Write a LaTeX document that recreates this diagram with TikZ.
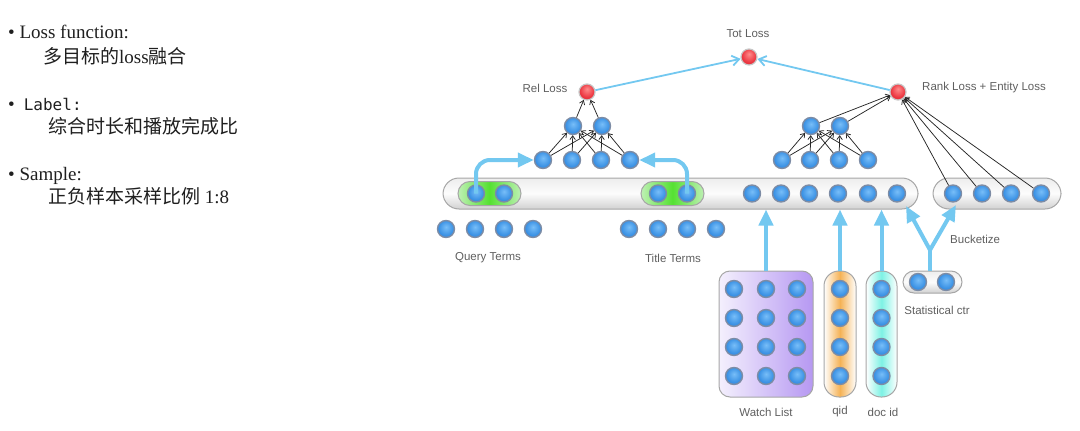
\documentclass[tikz,border=0pt]{standalone}
\usepackage{fontspec}
\setmainfont{Liberation Serif}
\setsansfont{Liberation Sans}
\newfontfamily\cjk{Noto Sans CJK SC}
\newfontfamily\monof{DejaVu Sans Mono}
\usetikzlibrary{arrows.meta}
\definecolor{bcone}{RGB}{120,190,248}
\definecolor{bctwo}{RGB}{58,145,228}
\definecolor{bcthree}{RGB}{45,118,205}
\definecolor{rcone}{RGB}{255,140,140}
\definecolor{rctwo}{RGB}{236,55,65}
\definecolor{rcthree}{RGB}{205,40,50}
\definecolor{ringc}{RGB}{125,140,165}
\definecolor{lblue}{RGB}{115,200,240}
\definecolor{lbl}{RGB}{95,95,95}
\definecolor{gedge}{RGB}{190,240,180}
\definecolor{gmid}{RGB}{85,225,50}
\definecolor{wlone}{RGB}{244,240,253}
\definecolor{wltwo}{RGB}{182,152,242}
\definecolor{qorange}{RGB}{245,178,85}
\definecolor{dcyan}{RGB}{125,242,228}
\pgfdeclareradialshading{bsh}{\pgfpoint{0bp}{6bp}}{color(0bp)=(bcone); color(22bp)=(bctwo); color(42bp)=(bcthree); color(50bp)=(bcthree)}
\pgfdeclareradialshading{rsh}{\pgfpoint{0bp}{10bp}}{color(0bp)=(rcone); color(22bp)=(rctwo); color(42bp)=(rcthree); color(50bp)=(rcthree)}
\tikzset{
  bnode/.style={circle, minimum size=17pt, inner sep=0pt, draw=ringc, line width=1.4pt, shading=bsh},
  rnode/.style={circle, minimum size=16pt, inner sep=0pt, draw=gray!45, line width=1.2pt, shading=rsh},
  holder/.style={draw=gray!70, line width=1pt, inner sep=0pt},
  grayfill/.style={top color=gray!14, bottom color=gray!36, middle color=gray!2},
  narr/.style={-{Straight Barb[length=3.8pt,width=5.5pt]}, line width=0.75pt, black!85},
  farr/.style={-{Triangle[length=16pt,width=14pt]}, line width=4pt, lblue},
  fline/.style={line width=4pt, lblue},
  larr/.style={-{Straight Barb[length=7pt,width=10pt]}, line width=1.8pt, lblue},
  lab/.style={font=\sffamily\fontsize{11.5}{13}\selectfont, text=lbl, inner sep=0pt},
  txt/.style={anchor=base west, inner sep=0pt, font=\fontsize{19}{22}\selectfont, text=black!88}
}
\begin{document}
\begin{tikzpicture}[x=1pt,y=-1pt]
\useasboundingbox (0,0) rectangle (1080,431);
% left text
\node[txt] (t1) at (8,38) {• Loss function:};
\node[txt] (t2) at (43,63) {{\cjk 多目标的}loss{\cjk 融合}};
\node[txt] (t3) at (8,110) {•\hspace{9pt}{\monof\fontsize{16}{19}\selectfont Label:}};
\node[txt] (t4) at (48,133) {\cjk 综合时长和播放完成比};
\node[txt] (t5) at (8,180) {• Sample:};
\node[txt] (t6) at (48,203) {{\cjk 正负样本采样比例} 1:8};

% containers
\node[holder, grayfill, rounded corners=16pt, minimum width=475pt, minimum height=31pt] (bar) at (680.5,193.5) {};
\node[holder, grayfill, rounded corners=16pt, minimum width=128pt, minimum height=31pt] (rbar) at (997,193.5) {};
\node[holder, left color=gedge, right color=gedge, middle color=gmid, rounded corners=12pt, minimum width=63pt, minimum height=24pt] (gq) at (489.5,193.5) {};
\node[holder, left color=gedge, right color=gedge, middle color=gmid, rounded corners=12pt, minimum width=63pt, minimum height=24pt] (gt) at (672.5,193.5) {};
\node[holder, left color=wlone, right color=wltwo, rounded corners=11pt, minimum width=94pt, minimum height=126pt] (wl) at (766,334) {};
\node[holder, left color=white, right color=white, middle color=qorange, rounded corners=15pt, minimum width=32pt, minimum height=126pt] (qid) at (840,334) {};
\node[holder, left color=white, right color=white, middle color=dcyan, rounded corners=15pt, minimum width=31pt, minimum height=126pt] (did) at (881.5,334) {};
\node[holder, grayfill, rounded corners=11pt, minimum width=59pt, minimum height=22pt] (st) at (932.5,282) {};

% loss nodes
\node[rnode] (tot) at (749,57) {};
\node[rnode] (rel) at (587,92) {};
\node[rnode] (rank) at (898,92) {};

% left tower
\node[bnode] (g1) at (573,126) {};
\node[bnode] (g2) at (602,126) {};
\foreach \i/\x in {1/543,2/572,3/601,4/630} \node[bnode] (h\i) at (\x,160) {};
% right tower
\node[bnode] (m1) at (811,126) {};
\node[bnode] (m2) at (840,126) {};
\foreach \i/\x in {1/782,2/810,3/839,4/868} \node[bnode] (k\i) at (\x,160) {};

% bar nodes
\node[bnode] (q1) at (476,193.5) {};
\node[bnode] (q2) at (504,193.5) {};
\node[bnode] (s1) at (658,193.5) {};
\node[bnode] (s2) at (687,193.5) {};
\foreach \i/\x in {1/752,2/781,3/809,4/838,5/868,6/897} \node[bnode] (b\i) at (\x,193.5) {};
\foreach \i/\x in {1/953,2/982,3/1011,4/1041} \node[bnode] (r\i) at (\x,193.5) {};

% term rows
\foreach \i/\x in {1/446,2/475,3/504,4/533} \node[bnode] (qt\i) at (\x,229) {};
\foreach \i/\x in {1/629,2/658,3/687,4/716} \node[bnode] (tt\i) at (\x,229) {};

% watch list, qid, doc id, stat ctr
\foreach \r/\y in {1/289,2/318,3/347,4/376}{
  \foreach \c/\x in {1/734,2/766,3/797} \node[bnode] (w\r\c) at (\x,\y) {};
  \node[bnode] (qd\r) at (840,\y) {};
  \node[bnode] (dd\r) at (881.5,\y) {};
}
\node[bnode] (sc1) at (918,282) {};
\node[bnode] (sc2) at (946,282) {};

% labels
\node[lab] (ltot) at (748,34) {Tot Loss};
\node[lab] (lrel) at (545,88) {Rel Loss};
\node[lab, anchor=west] (lrank) at (922,88) {Rank Loss + Entity Loss};
\node[lab] (lq) at (488,258) {Query Terms};
\node[lab] (lt) at (673,258) {Title Terms};
\node[lab, anchor=west] (lb) at (950,239) {Bucketize};
\node[lab] (lst) at (937,310) {Statistical ctr};
\node[lab] (lwl) at (766,412) {Watch List};
\node[lab] (lqid) at (840,412) {qid};
\node[lab] (ldid) at (883,412) {doc id};

% black arrows
\foreach \i in {1,...,4}{
  \foreach \j in {1,2}{
    \draw[narr] (h\i) -- (g\j);
    \draw[narr] (k\i) -- (m\j);
  }
  \draw[narr] (r\i) -- (rank);
}
\foreach \j in {1,2}{
  \draw[narr] (g\j) -- (rel);
  \draw[narr] (m\j) -- (rank);
}

% loss arrows
\draw[larr] (rel) -- (tot);
\draw[larr] (rank) -- (tot);

% thick blue arrows
\draw[farr, rounded corners=14pt] (q1.center) |- (h1.west);
\draw[farr, rounded corners=14pt] (s2.center) |- (h4.east);
\coordinate (wlt) at (wl.north |- bar.south);
\coordinate (qdt) at (qid.north |- bar.south);
\coordinate (ddt) at (did.north |- bar.south);
\draw[farr] (wl.north) -- (wlt);
\draw[farr] (qid.north) -- (qdt);
\draw[farr] (did.north) -- (ddt);
\coordinate (bk) at (930,250);
\coordinate (bkl) at (906,206);
\coordinate (bkr) at (956,205);
\draw[fline] (st.north -| bk) -- (bk);
\draw[farr] (bk) -- (bkl);
\draw[farr] (bk) -- (bkr);
\end{tikzpicture}
\end{document}
